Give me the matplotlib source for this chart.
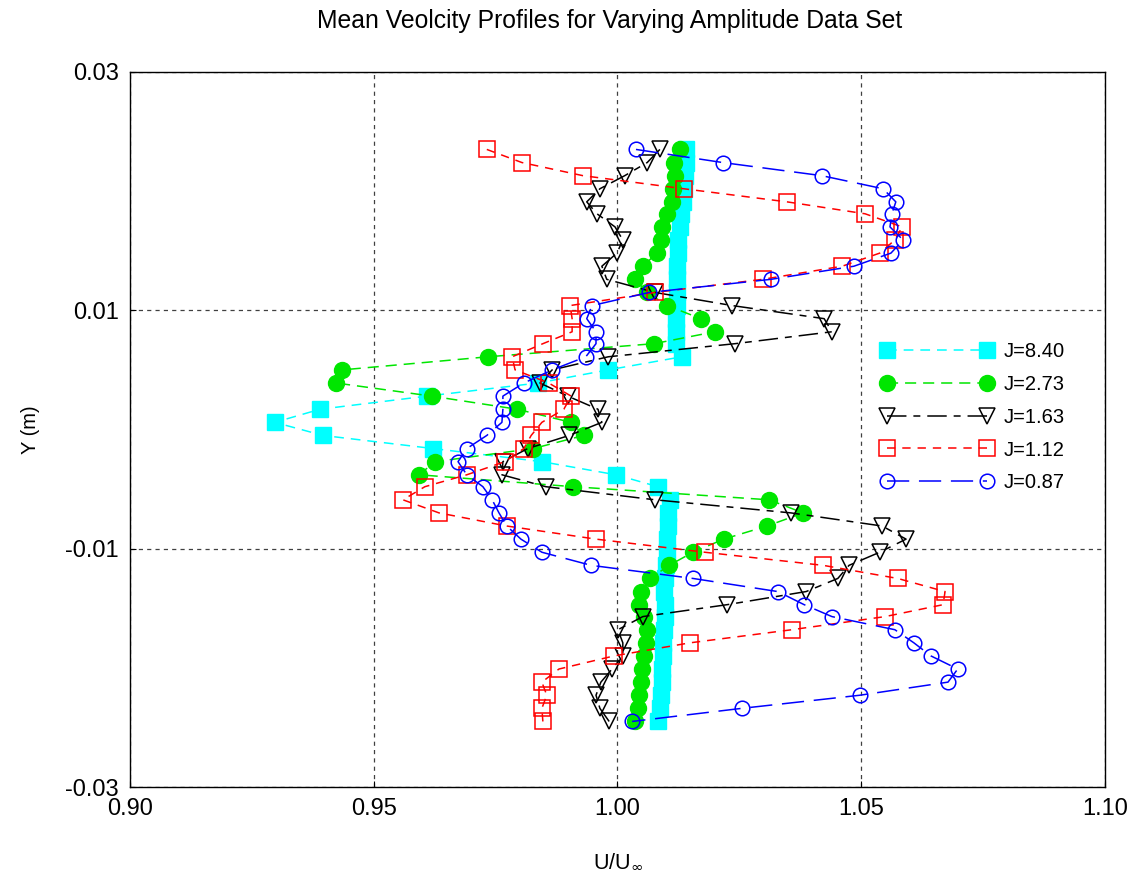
import matplotlib
matplotlib.use('Agg')
import matplotlib.pyplot as plt
from matplotlib.ticker import FixedLocator, FormatStrFormatter

plt.rcParams['font.family'] = ['Liberation Sans', 'DejaVu Sans']
plt.rcParams['font.size'] = 14.5
plt.rcParams['axes.unicode_minus'] = False
plt.rcParams['lines.scale_dashes'] = False

# wall-normal positions (m), shared by all profiles
y_pos = [0.0235, 0.0224, 0.0213, 0.0202, 0.0191, 0.0181, 0.0170, 0.0159, 0.0148,
         0.0137, 0.0126, 0.0115, 0.0104, 0.0093, 0.0082, 0.0072, 0.0061, 0.0050,
         0.0039, 0.0028, 0.0017, 0.0006, -0.0005, -0.0016, -0.0027, -0.0038,
         -0.0048, -0.0059, -0.0070, -0.0081, -0.0092, -0.0103, -0.0114, -0.0125,
         -0.0136, -0.0147, -0.0157, -0.0168, -0.0179, -0.0190, -0.0201, -0.0212,
         -0.0223, -0.0234, -0.0245]

# U/Uinf for each amplitude
u_840 = [1.0141, 1.0141, 1.0138, 1.0136, 1.0134, 1.0130, 1.0128, 1.0124, 1.0124,
         1.0122, 1.0122, 1.0122, 1.0122, 1.0120, 1.0120, 1.0120, 1.0132, 0.9981,
         0.9837, 0.9609, 0.9390, 0.9297, 0.9396, 0.9622, 0.9845, 0.9997, 1.0083,
         1.0108, 1.0104, 1.0104, 1.0102, 1.0102, 1.0099, 1.0097, 1.0095, 1.0097,
         1.0097, 1.0095, 1.0093, 1.0093, 1.0091, 1.0091, 1.0089, 1.0087, 1.0083]
u_273 = [1.0128, 1.0116, 1.0118, 1.0114, 1.0112, 1.0102, 1.0091, 1.0089, 1.0081,
         1.0052, 1.0036, 1.0061, 1.0102, 1.0171, 1.0200, 1.0075, 0.9734, 0.9435,
         0.9423, 0.9619, 0.9794, 0.9905, 0.9931, 0.9827, 0.9626, 0.9593, 0.9909,
         1.0311, 1.0381, 1.0307, 1.0218, 1.0155, 1.0106, 1.0067, 1.0048, 1.0044,
         1.0054, 1.0061, 1.0058, 1.0054, 1.0050, 1.0048, 1.0044, 1.0042, 1.0036]
u_163 = [1.0087, 1.0061, 1.0015, 0.9964, 0.9937, 0.9958, 0.9995, 1.0011, 0.9999,
         0.9968, 0.9978, 1.0077, 1.0235, 1.0424, 1.0440, 1.0241, 0.9981, 0.9866,
         0.9841, 0.9898, 0.9960, 0.9968, 0.9901, 0.9816, 0.9765, 0.9763, 0.9853,
         1.0077, 1.0356, 1.0543, 1.0592, 1.0538, 1.0475, 1.0452, 1.0387, 1.0225,
         1.0052, 1.0001, 1.0011, 1.0011, 0.9989, 0.9966, 0.9956, 0.9964, 0.9983]
u_112 = [0.9732, 0.9804, 0.9929, 1.0136, 1.0348, 1.0508, 1.0584, 1.0569, 1.0538,
         1.0461, 1.0298, 1.0077, 0.9903, 0.9907, 0.9907, 0.9847, 0.9784, 0.9790,
         0.9859, 0.9905, 0.9890, 0.9845, 0.9823, 0.9808, 0.9769, 0.9691, 0.9605,
         0.9560, 0.9634, 0.9773, 0.9956, 1.0179, 1.0422, 1.0575, 1.0672, 1.0668,
         1.0549, 1.0358, 1.0149, 0.9993, 0.9880, 0.9845, 0.9855, 0.9845, 0.9847]
u_087 = [1.0038, 1.0216, 1.0419, 1.0545, 1.0571, 1.0563, 1.0559, 1.0586, 1.0561,
         1.0485, 1.0315, 1.0065, 0.9948, 0.9937, 0.9956, 0.9956, 0.9935, 0.9866,
         0.9808, 0.9765, 0.9765, 0.9763, 0.9732, 0.9691, 0.9673, 0.9691, 0.9724,
         0.9743, 0.9757, 0.9773, 0.9802, 0.9845, 0.9946, 1.0155, 1.0329, 1.0383,
         1.0440, 1.0569, 1.0608, 1.0643, 1.0698, 1.0678, 1.0497, 1.0255, 1.0030]

labels = ['J=8.40', 'J=2.73', 'J=1.63', 'J=1.12', 'J=0.87']

fig = plt.figure(figsize=(11.48, 8.82), dpi=100)
ax = fig.add_axes([0.1132, 0.1077, 0.8493, 0.8107])

ax.plot(u_840, y_pos, color='cyan', marker='s', ms=11.5, mec='cyan', mfc='cyan',
        lw=1.1, dashes=(7, 5), label=labels[0])
ax.plot(u_273, y_pos, color='#00e600', marker='o', ms=11.5, mec='#00e600',
        mfc='#00e600', lw=1.1, dashes=(8, 5), label=labels[1])
ax.plot(u_163, y_pos, color='black', marker='v', ms=11.5, mec='black', mfc='none',
        mew=1.1, lw=1.1, dashes=(14, 5, 5, 5), label=labels[2])
ax.plot(u_112, y_pos, color='red', marker='s', ms=11, mec='red', mfc='none',
        mew=1.1, lw=1.1, dashes=(6, 5), label=labels[3])
ax.plot(u_087, y_pos, color='blue', marker='o', ms=10.5, mec='blue', mfc='none',
        mew=1.1, lw=1.1, dashes=(16, 7), label=labels[4])

ax.set_xlim(0.90, 1.10)
ax.set_ylim(-0.03, 0.03)
ax.xaxis.set_major_locator(FixedLocator([0.90, 0.95, 1.00, 1.05, 1.10]))
ax.yaxis.set_major_locator(FixedLocator([-0.03, -0.01, 0.01, 0.03]))
ax.xaxis.set_major_formatter(FormatStrFormatter('%.2f'))
ax.yaxis.set_major_formatter(FormatStrFormatter('%.2f'))
ax.tick_params(direction='in', length=4, pad=8, labelsize=17)
ax.grid(True, color='0.25', lw=0.9, dashes=(3, 3))
for s in ax.spines.values():
    s.set_linewidth(1.0)

ax.legend(loc='center left', bbox_to_anchor=(0.770, 0.517), frameon=False,
          numpoints=2, handlelength=5.6, handletextpad=0.5, labelspacing=0.68,
          borderpad=0, borderaxespad=0, fontsize=14.5)

fig.text(610 / 1148, 1 - 21 / 882, 'Mean Veolcity Profiles for Varying Amplitude Data Set',
         ha='center', va='center', fontsize=17.8)
fig.text(30 / 1148, 1 - 430 / 882, 'Y (m)', rotation=90, ha='center', va='center',
         fontsize=14.5)
fig.text(618 / 1148, 1 - 867 / 882, r'U/U$_{\infty}$', ha='center', va='baseline',
         fontsize=15.5)

fig.savefig('out.png', dpi=100)
